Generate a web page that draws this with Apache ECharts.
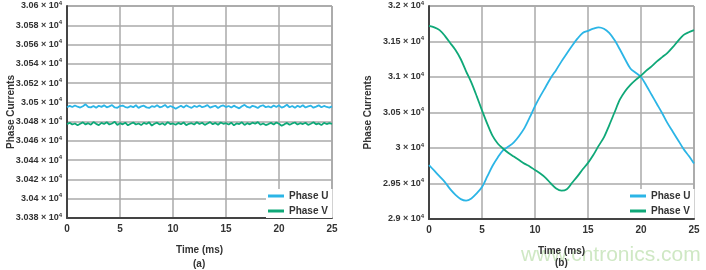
<!DOCTYPE html>
<html>
<head>
<meta charset="utf-8">
<script src="https://cdn.jsdelivr.net/npm/echarts@6/dist/echarts.min.js"></script>
<style>
    html, body { margin: 0; padding: 0; background: #fff; }
    #chart { width: 706px; height: 270px; }
</style>
</head>
<body>
<div id="chart"></div>
<script>
// (a) steady currents, 0.25 ms samples
var timeFine = [0, 0.25, 0.5, 0.75, 1, 1.25, 1.5, 1.75, 2, 2.25, 2.5, 2.75, 3, 3.25, 3.5, 3.75, 4, 4.25, 4.5, 4.75,
    5, 5.25, 5.5, 5.75, 6, 6.25, 6.5, 6.75, 7, 7.25, 7.5, 7.75, 8, 8.25, 8.5, 8.75, 9, 9.25, 9.5, 9.75,
    10, 10.25, 10.5, 10.75, 11, 11.25, 11.5, 11.75, 12, 12.25, 12.5, 12.75, 13, 13.25, 13.5, 13.75, 14, 14.25, 14.5, 14.75,
    15, 15.25, 15.5, 15.75, 16, 16.25, 16.5, 16.75, 17, 17.25, 17.5, 17.75, 18, 18.25, 18.5, 18.75, 19, 19.25, 19.5, 19.75,
    20, 20.25, 20.5, 20.75, 21, 21.25, 21.5, 21.75, 22, 22.25, 22.5, 22.75, 23, 23.25, 23.5, 23.75, 24, 24.25, 24.5, 24.75, 25];
var steadyU = [30495.0, 30496.4, 30495.2, 30496.8, 30495.5, 30494.6, 30496.0, 30498.0, 30495.2, 30494.8,
    30496.3, 30494.5, 30496.5, 30495.3, 30496.9, 30494.9, 30495.8, 30497.2, 30494.7, 30494.4,
    30496.2, 30496.7, 30495.1, 30494.6, 30496.1, 30495.0, 30497.0, 30494.3, 30495.8, 30496.6,
    30494.8, 30494.2, 30496.0, 30495.2, 30496.9, 30494.9, 30495.6, 30497.3, 30494.6, 30496.2,
    30495.1, 30493.3, 30495.0, 30496.5, 30494.7, 30496.9, 30495.5, 30494.3, 30496.3, 30495.2,
    30496.7, 30494.9, 30495.9, 30497.1, 30494.5, 30495.6, 30496.5, 30494.2, 30496.0, 30496.8,
    30495.1, 30496.2, 30494.7, 30496.6, 30495.0, 30493.8, 30495.9, 30497.4, 30495.2, 30494.5,
    30496.4, 30495.6, 30494.2, 30496.2, 30497.0, 30494.9, 30495.9, 30494.7, 30496.7, 30495.2,
    30496.9, 30494.5, 30495.6, 30497.5, 30494.9, 30496.2, 30494.3, 30496.5, 30495.1, 30497.0,
    30494.7, 30495.9, 30496.6, 30494.5, 30495.6, 30496.9, 30494.9, 30496.3, 30495.2, 30494.6, 30495.8];
var steadyV = [30477.4, 30478.9, 30477.0, 30478.1, 30476.3, 30477.8, 30479.2, 30477.1, 30478.4, 30476.8,
    30479.5, 30477.7, 30476.4, 30478.7, 30477.5, 30479.3, 30477.0, 30478.1, 30479.8, 30476.6,
    30478.4, 30477.2, 30478.9, 30476.2, 30477.8, 30479.1, 30477.0, 30478.1, 30476.4, 30478.7,
    30477.5, 30479.3, 30475.9, 30477.8, 30478.9, 30477.0, 30478.4, 30476.6, 30479.5, 30477.5,
    30478.1, 30476.8, 30478.7, 30477.2, 30479.1, 30476.4, 30477.8, 30478.4, 30477.0, 30479.3,
    30477.5, 30478.9, 30476.6, 30478.1, 30479.5, 30477.2, 30478.7, 30476.8, 30479.1, 30477.8,
    30478.4, 30477.0, 30478.9, 30476.2, 30478.1, 30477.5, 30479.3, 30476.6, 30478.4, 30477.2,
    30478.9, 30477.8, 30479.5, 30476.8, 30478.1, 30476.4, 30477.5, 30478.7, 30477.0, 30479.1,
    30477.8, 30475.8, 30477.2, 30478.7, 30476.8, 30478.1, 30479.1, 30477.0, 30478.4, 30477.5,
    30478.9, 30476.6, 30477.8, 30479.3, 30477.2, 30478.1, 30476.4, 30478.7, 30477.5, 30478.4, 30477.8];

// (b) swinging currents, 0.5 ms samples
var timeCoarse = [0, 0.5, 1, 1.5, 2, 2.5, 3, 3.5, 4, 4.5, 5, 5.5, 6, 6.5, 7, 7.5, 8, 8.5, 9, 9.5,
    10, 10.5, 11, 11.5, 12, 12.5, 13, 13.5, 14, 14.5, 15, 15.5, 16, 16.5, 17, 17.5, 18, 18.5, 19, 19.5,
    20, 20.5, 21, 21.5, 22, 22.5, 23, 23.5, 24, 24.5, 25];
var swingU = [29760, 29680, 29600, 29520, 29420, 29340, 29280, 29260, 29290, 29360,
    29450, 29600, 29750, 29870, 29970, 30020, 30080, 30170, 30280, 30430,
    30590, 30730, 30860, 30990, 31100, 31220, 31330, 31440, 31540, 31620,
    31650, 31680, 31700, 31680, 31620, 31520, 31390, 31250, 31120, 31060,
    31000, 30880, 30750, 30620, 30490, 30350, 30230, 30110, 29990, 29890, 29780];
var swingV = [31720, 31700, 31660, 31580, 31480, 31380, 31250, 31080, 30920, 30730,
    30530, 30340, 30170, 30060, 29990, 29930, 29880, 29830, 29780, 29740,
    29690, 29640, 29580, 29500, 29430, 29400, 29420, 29510, 29600, 29700,
    29790, 29900, 30030, 30150, 30320, 30500, 30680, 30800, 30890, 30960,
    31020, 31090, 31150, 31220, 31280, 31340, 31420, 31510, 31590, 31630, 31660];

var blue = '#2bb5e6';
var green = '#0fa878';
var font = '"Liberation Sans", Arial, sans-serif';

function pairs(t, v) {
    return t.map(function (x, i) { return [x, v[i]]; });
}

function sciLabel(v) {
    var m = parseFloat((v / 10000).toFixed(4));
    return '{a|' + m + ' × 10}{s|4}';
}

var labelRich = {
    a: { fontSize: 9, fontWeight: 'bold', color: '#333', fontFamily: font },
    s: { fontSize: 6, fontWeight: 'bold', color: '#333', fontFamily: font, verticalAlign: 'top', padding: [0, 0, 6, 0] }
};

function xAxisFor(idx) {
    return {
        type: 'value', gridIndex: idx, min: 0, max: 25, interval: 5,
        name: 'Time (ms)', nameLocation: 'middle', nameGap: 27,
        nameTextStyle: { fontSize: 10, fontWeight: 'bold', color: '#333', fontFamily: font },
        axisLine: { lineStyle: { color: '#444', width: 2 } },
        axisTick: { show: false },
        axisLabel: { margin: 6, fontSize: 10, fontWeight: 'bold', color: '#333', fontFamily: font },
        splitLine: { show: true, lineStyle: { color: '#aaa', width: 1.5 } }
    };
}

function yAxisFor(idx, min, max, step, gap) {
    return {
        type: 'value', gridIndex: idx, min: min, max: max, interval: step,
        name: 'Phase Currents', nameLocation: 'middle', nameGap: gap, nameMoveOverlap: false,
        nameTextStyle: { fontSize: 10, fontWeight: 'bold', color: '#333', fontFamily: font },
        axisLine: { show: true, lineStyle: { color: '#444', width: 2 } },
        axisTick: { show: false },
        axisLabel: { margin: 5, formatter: sciLabel, rich: labelRich },
        splitLine: { show: true, lineStyle: { color: '#aaa', width: 1.5 } }
    };
}

function legendAt(left) {
    return {
        left: left, top: 189, orient: 'vertical',
        data: ['Phase U', 'Phase V'],
        icon: 'rect', itemWidth: 16, itemHeight: 3, itemGap: 5,
        padding: [2, 4, 2, 2],
        backgroundColor: '#fff',
        textStyle: { fontSize: 10, fontWeight: 'bold', color: '#333', fontFamily: font }
    };
}

var chart = echarts.init(document.getElementById('chart'));
chart.setOption({
    animation: false,
    backgroundColor: '#fff',
    grid: [
        { left: 67, right: 374, top: 6, bottom: 52, show: true, borderColor: '#666', borderWidth: 1, outerBoundsMode: 'none' },
        { left: 429, right: 12, top: 6, bottom: 51, show: true, borderColor: '#666', borderWidth: 1, outerBoundsMode: 'none' }
    ],
    xAxis: [xAxisFor(0), xAxisFor(1)],
    yAxis: [
        yAxisFor(0, 30380, 30600, 20, 51),
        yAxisFor(1, 29000, 32000, 500, 56)
    ],
    legend: [legendAt(266), legendAt(628)],
    series: [
        { name: 'Phase U', type: 'line', xAxisIndex: 0, yAxisIndex: 0, data: pairs(timeFine, steadyU),
          showSymbol: false, lineStyle: { color: blue, width: 1.8 }, itemStyle: { color: blue } },
        { name: 'Phase V', type: 'line', xAxisIndex: 0, yAxisIndex: 0, data: pairs(timeFine, steadyV),
          showSymbol: false, lineStyle: { color: green, width: 1.8 }, itemStyle: { color: green } },
        { name: 'Phase U', type: 'line', xAxisIndex: 1, yAxisIndex: 1, data: pairs(timeCoarse, swingU),
          showSymbol: false, smooth: 0.3, lineStyle: { color: blue, width: 1.8 }, itemStyle: { color: blue } },
        { name: 'Phase V', type: 'line', xAxisIndex: 1, yAxisIndex: 1, data: pairs(timeCoarse, swingV),
          showSymbol: false, smooth: 0.3, lineStyle: { color: green, width: 1.8 }, itemStyle: { color: green } }
    ],
    graphic: [
        { type: 'text', left: 521, top: 245, z: 0,
          style: { text: 'www.cntronics.com', fontSize: 21, fontFamily: font, fill: '#cfe8c4' } },
        { type: 'text', left: 193, top: 259,
          style: { text: '(a)', fontSize: 10, fontWeight: 'bold', fontFamily: font, fill: '#333' } },
        { type: 'text', left: 555, top: 258,
          style: { text: '(b)', fontSize: 10, fontWeight: 'bold', fontFamily: font, fill: '#333' } }
    ]
});
</script>
</body>
</html>
